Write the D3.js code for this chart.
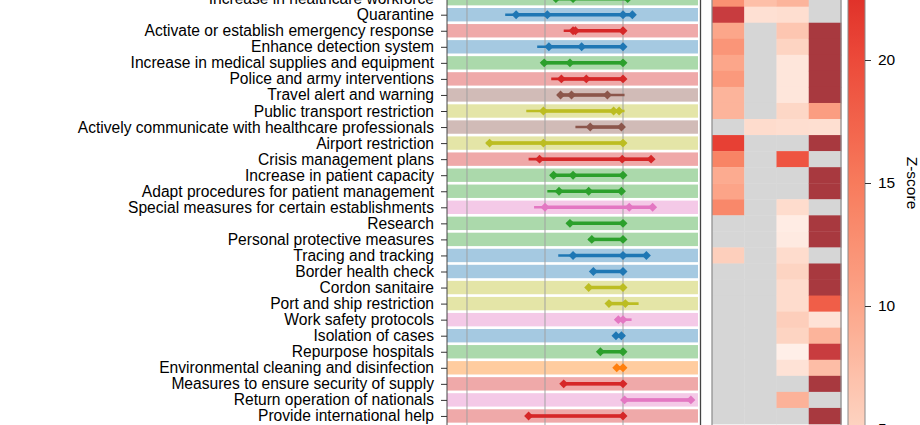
<!DOCTYPE html>
<html>
<head>
<meta charset="utf-8">
<script src="https://cdn.jsdelivr.net/npm/d3@7"></script>
<style>
  html, body { margin: 0; padding: 0; background: #fff; }
  svg { display: block; font-family: "Liberation Sans", Arial, Helvetica, sans-serif; }
</style>
</head>
<body>
<script>
// ---------------- data ----------------
const categories = [
  "Increase in healthcare workforce",
  "Quarantine",
  "Activate or establish emergency response",
  "Enhance detection system",
  "Increase in medical supplies and equipment",
  "Police and army interventions",
  "Travel alert and warning",
  "Public transport restriction",
  "Actively communicate with healthcare professionals",
  "Airport restriction",
  "Crisis management plans",
  "Increase in patient capacity",
  "Adapt procedures for patient management",
  "Special measures for certain establishments",
  "Research",
  "Personal protective measures",
  "Tracing and tracking",
  "Border health check",
  "Cordon sanitaire",
  "Port and ship restriction",
  "Work safety protocols",
  "Isolation of cases",
  "Repurpose hospitals",
  "Environmental cleaning and disinfection",
  "Measures to ensure security of supply",
  "Return operation of nationals",
  "Provide international help"
];

const groups = ["green","blue","red","blue","green","red","brown","olive","brown","olive",
  "red","green","green","pink","green","green","blue","blue","olive","olive",
  "pink","blue","green","orange","red","pink","red"];

const whiskerLo = [-0.88,-1.51,-0.76,-1.10,-1.05,-0.92,-0.84,-1.24,-0.61,-1.75,
  -1.21,-0.93,-0.97,-1.14,-0.72,-0.44,-0.83,-0.40,-0.46,-0.21,
  -0.10,-0.11,-0.32,-0.10,-0.79,0,-1.24];
const whiskerHi = [0.06,0.13,0,0,0,0,0.02,0.02,0,0,
  0.37,0,0,0.39,0,0,0.31,0,0,0.20,
  0.11,0.02,0,0.01,0,0.88,0];

const estimates = [
  [-0.86,-0.64,0.06],
  [-1.37,-0.97,0,0.12],
  [-0.64,-0.61,0],
  [-0.95,-0.53,0],
  [-1.01,-0.68,0],
  [-0.79,-0.47,0],
  [-0.80,-0.66,-0.20],
  [-1.02,-0.12,-0.05],
  [-0.42,-0.02],
  [-1.71,-1.02,0],
  [-1.07,-0.01,0.36],
  [-0.89,-0.64,0],
  [-0.82,-0.44,-0.02],
  [-1.00,0.08,0.38],
  [-0.68,0],
  [-0.40,0],
  [-0.64,0,0.30],
  [-0.38,0],
  [-0.44,0],
  [-0.18,0.03],
  [-0.06,0],
  [-0.09,-0.02],
  [-0.29,0],
  [-0.08,0],
  [-0.76,0],
  [0.02,0.87],
  [-1.21,0]
];

const gridValues = [-2, -1, 0];

// heatmap Z-scores (null = not available)
const heatCol1 = [12.5,26,10,12,10,11.5,8.5,8.5,null,21,14,9.5,10.2,13.5,null,null,5.5,null,null,null,null,null,null,null,null,null,null];
const heatCol2 = [7.3,3.8,null,null,null,null,null,null,4.2,null,null,null,null,null,null,null,null,null,null,null,null,null,null,null,null,null,null];
const heatCol3 = [8.5,4.0,6.5,5,3.2,3.2,3.2,4.7,4.0,null,19,null,null,4.2,2.6,2.8,4.2,5,4.2,4.2,5.6,5,2.3,3.6,null,8.7,null];
const heatCol4 = [null,null,30,30,30,30,30,11,3.9,30,null,30,30,null,30,30,null,30,30,18,3.6,8.5,26,7.5,30,null,30];
const heatColumns = ["c1","c2","c3","c4"];

const colorbarTicks = [5, 10, 15, 20];

// ---------------- drawing ----------------
const W = 920, H = 425;
const svg = d3.select("body").append("svg").attr("width", W).attr("height", H);

const palette = {
  blue: "#1f77b4", orange: "#ff7f0e", green: "#2ca02c", red: "#d62728",
  brown: "#8c564b", pink: "#e377c2", olive: "#bcbd22"
};

const step = 16.05;
const y = d3.scaleBand().domain(categories)
  .range([-1.35 - step / 2, -1.35 - step / 2 + step * categories.length])
  .padding(0);
const yc = d => y(d) + y.bandwidth() / 2;

const x = d3.scaleLinear().domain([-2.256, 0.987]).range([447, 700]);

// row bands
svg.append("g").selectAll("rect").data(categories).join("rect")
  .attr("x", x.range()[0]).attr("width", x.range()[1] - x.range()[0] - 2)
  .attr("y", d => yc(d) - 6.7).attr("height", 13.4)
  .attr("fill", (d, i) => palette[groups[i]]).attr("fill-opacity", 0.4);

// grid lines
svg.append("g").selectAll("line").data(gridValues).join("line")
  .attr("x1", d => x(d)).attr("x2", d => x(d))
  .attr("y1", -20).attr("y2", H + 20)
  .attr("stroke", "#a0a0a0").attr("stroke-width", 1.3).attr("stroke-opacity", 0.75);

// whiskers
svg.append("g").selectAll("line").data(categories).join("line")
  .attr("x1", (d, i) => x(whiskerLo[i])).attr("x2", (d, i) => x(whiskerHi[i]))
  .attr("y1", d => yc(d)).attr("y2", d => yc(d))
  .attr("stroke", (d, i) => palette[groups[i]]).attr("stroke-width", 2.6);

// thick estimate ranges
svg.append("g").selectAll("line").data(categories).join("line")
  .attr("x1", (d, i) => x(d3.min(estimates[i]))).attr("x2", (d, i) => x(d3.max(estimates[i])))
  .attr("y1", d => yc(d)).attr("y2", d => yc(d))
  .attr("stroke", (d, i) => palette[groups[i]]).attr("stroke-width", 3.5);

// diamonds
const pts = [];
categories.forEach((c, i) => estimates[i].forEach(v => pts.push({ c, v, g: groups[i] })));
const diamond = d3.symbol().type(d3.symbolSquare).size(40);
svg.append("g").selectAll("path").data(pts).join("path")
  .attr("d", diamond)
  .attr("transform", d => `translate(${x(d.v)},${yc(d.c)}) rotate(45)`)
  .attr("fill", d => palette[d.g]);

// panel frame
svg.append("line").attr("x1", 700.5).attr("x2", 700.5).attr("y1", -20).attr("y2", H + 20)
  .attr("stroke", "#444").attr("stroke-width", 1.3);
svg.append("line").attr("x1", 447).attr("x2", 447).attr("y1", -20).attr("y2", H + 20)
  .attr("stroke", "#444").attr("stroke-width", 1);

// y axis ticks and labels
const yAxis = d3.axisLeft(d3.scalePoint().domain(categories).range([yc(categories[0]), yc(categories[categories.length - 1])]))
  .tickSize(6).tickPadding(7);
const gy = svg.append("g").attr("transform", "translate(447,0)").call(yAxis);
gy.select(".domain").remove();
gy.selectAll(".tick line").attr("stroke", "#333");
gy.selectAll(".tick text").attr("fill", "#000").style("font-size", "15.6px")
  .style("font-family", '"Liberation Sans", Arial, sans-serif');

// ---------------- heatmap ----------------
const hx = d3.scaleBand().domain(heatColumns).range([712, 841]);
const zColor = d3.scaleLinear()
  .domain([2, 5, 10, 15, 20, 22.5, 26, 30])
  .range(["#fff2ec", "#fdd4c2", "#fca68a", "#f77b5c", "#ec4a3a", "#e0322a", "#c83c3f", "#a8393f"])
  .clamp(true);
const heatData = [heatCol1, heatCol2, heatCol3, heatCol4];
const cells = [];
heatColumns.forEach((col, j) => categories.forEach((c, i) => cells.push({ col, c, z: heatData[j][i] })));
svg.append("g").selectAll("rect").data(cells).join("rect")
  .attr("x", d => hx(d.col)).attr("width", hx.bandwidth() + 0.4)
  .attr("y", d => y(d.c)).attr("height", y.bandwidth() + 0.4)
  .attr("fill", d => d.z == null ? "#d6d6d6" : zColor(d.z));
svg.append("rect").attr("x", 712).attr("y", -20).attr("width", 129).attr("height", H + 40)
  .attr("fill", "none").attr("stroke", "#8a8a8a").attr("stroke-width", 1.2);

// ---------------- colorbar ----------------
const cy = d3.scaleLinear().domain([5, 20]).range([429, 60]);
const zMin = 4, zMax = 24;
const defs = svg.append("defs");
const grad = defs.append("linearGradient").attr("id", "cbar")
  .attr("gradientUnits", "userSpaceOnUse")
  .attr("x1", 0).attr("x2", 0).attr("y1", cy(zMin)).attr("y2", cy(zMax));
d3.range(zMin, zMax + 0.01, 0.5).forEach(z => {
  grad.append("stop").attr("offset", (z - zMin) / (zMax - zMin)).attr("stop-color", zColor(z));
});
svg.append("rect").attr("x", 848).attr("width", 17)
  .attr("y", cy(zMax)).attr("height", cy(zMin) - cy(zMax))
  .attr("fill", "url(#cbar)").attr("stroke", "#8a8a8a").attr("stroke-width", 1);

const cAxis = d3.axisRight(cy).tickValues(colorbarTicks).tickSize(6).tickPadding(7).tickFormat(d3.format("d"));
const gc = svg.append("g").attr("transform", "translate(865,0)").call(cAxis);
gc.select(".domain").remove();
gc.selectAll(".tick line").attr("stroke", "#333");
gc.selectAll(".tick text").attr("fill", "#000").style("font-size", "15.5px")
  .style("font-family", '"Liberation Sans", Arial, sans-serif');

svg.append("text")
  .attr("transform", "translate(907,183) rotate(90)")
  .attr("text-anchor", "middle")
  .style("font-size", "15.5px")
  .text("Z-score");
</script>
</body>
</html>
